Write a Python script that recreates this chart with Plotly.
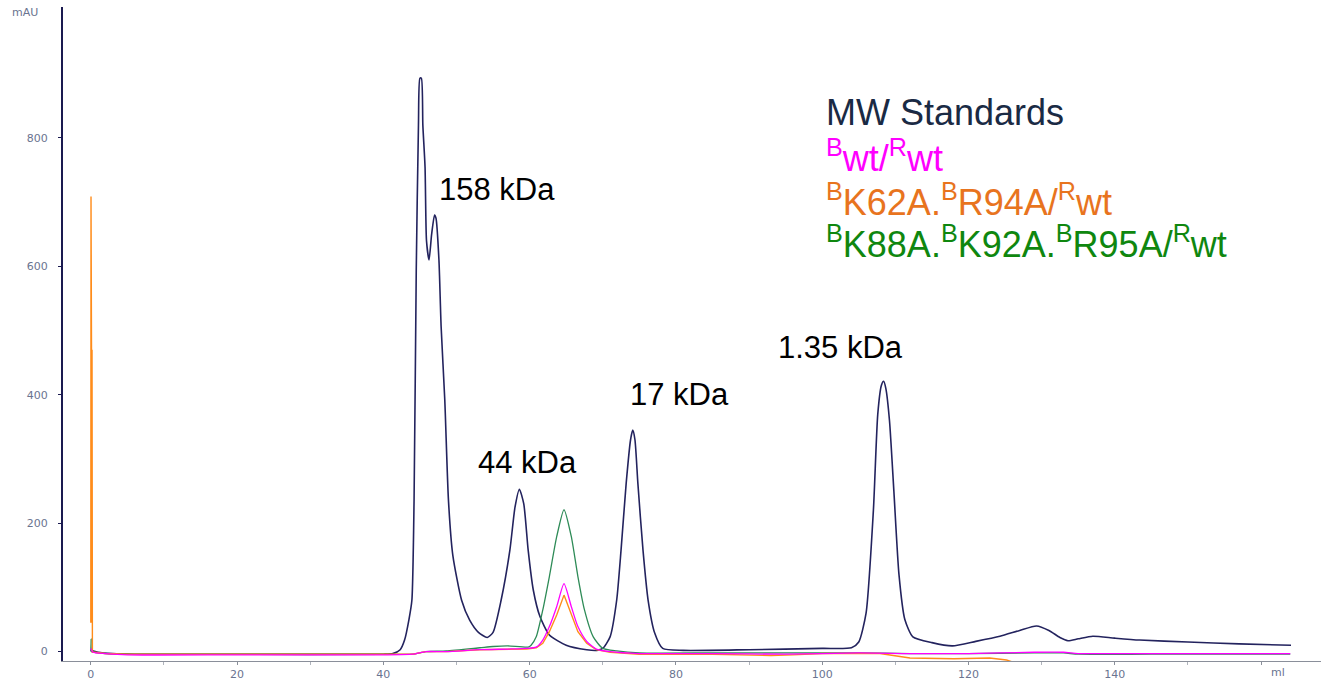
import plotly.graph_objects as go

# ---------------- data ----------------
# MW standards trace (ml, mAU)
mw_ml = [0, 1, 3, 6, 20, 40, 41.3, 42.3, 42.9, 43.5, 43.9, 44.2, 44.5, 44.8, 45.0, 45.2, 45.4,
         45.7, 45.9, 46.25, 46.6, 47.0, 47.2, 47.6, 47.9, 48.4, 48.9, 49.5, 50.7, 51.8, 53.0,
         54.2, 55.0, 56.1, 57.3, 58.0, 58.6, 59.2, 59.8, 60.5, 61.4, 62.7, 65.0, 67.8, 69.2,
         70.0, 71.0, 71.9, 72.5, 73.2, 73.8, 74.1, 74.4, 74.8, 75.5, 76.2, 77.1, 78.2, 81,
         90, 100, 104, 105, 106, 107, 107.6, 108.1, 108.4, 108.7, 109.2, 109.8, 110.5, 111.3,
         112.4, 115, 117.8, 121, 124.3, 127, 129.3, 131, 132.5, 133.6, 135, 137, 140, 143.4,
         150, 157, 164.1]
mw_mau = [2, -1, -3, -4, -4, -4, -3, 3, 18, 50, 80, 236, 595, 820, 893, 893, 820,
          755, 640, 610, 650, 680, 675, 610, 506, 392, 236, 150, 80, 49, 30,
          22, 30, 80, 158, 225, 253, 230, 158, 96, 55, 26, 10, 3, 2,
          5, 23, 80, 158, 262, 330, 345, 330, 262, 158, 80, 29, 5, 2,
          3, 5, 6, 15, 60, 220, 370, 415, 421, 410, 360, 250, 120, 50,
          23, 14, 9, 16, 24, 33, 40, 33, 22, 17, 20, 24, 21, 18,
          15, 12, 10]

# Bwt/Rwt trace
wt_ml = [0, 0.3, 2, 5, 20, 40, 44, 45.8, 48.6, 53.2, 57, 59.6, 60.9, 61.8, 62.7, 63.7, 64.7,
         65.7, 66.6, 67.8, 69.1, 71, 75, 85, 95, 105, 112, 120, 129, 133, 135, 145, 164]
wt_mau = [5, -1, -3, -5, -5, -5, -4, 0, 0, 3, 4, 5, 7, 18, 39, 70, 106,
          70, 39, 16, 4, 0, -3, -3, -4, -2, -3, -3, -1, -1, -3, -3, -3]

# BK62A.BR94A/Rwt trace
k62_ml = [0, 0.03, 0.06, 0.1, 0.14, 0.17, 0.22, 0.5, 2, 5, 20, 40, 44, 45.8, 48.6, 53.2, 57,
          59.6, 60.9, 61.8, 62.7, 63.7, 64.7, 65.7, 66.6, 67.8, 69.1, 71, 75, 85, 93, 96, 100,
          107.9, 110, 112, 118, 122.9, 125.2, 126.5, 127.4, 128]
k62_mau = [45, 709, 45, 470, 45, 470, -1, -1, -3, -4, -4, -4, -4, 0, 0, 3, 4,
           4, 6, 13, 31, 57, 88, 57, 31, 13, 3, -1, -4, -4, -6, -5, -3,
           -3, -7, -10, -11, -10, -13, -18, -23, -30]

# BK88A.BK92A.BR95A/Rwt trace
k88_ml = [0, 0.05, 0.1, 0.5, 2, 5, 20, 40, 44, 45.8, 48.6, 53.2, 55, 57, 59.8, 60.2, 60.9,
          61.8, 62.7, 63.7, 64.7, 65.7, 66.6, 67.5, 68.7, 70, 71.9, 75, 85, 95, 105, 112,
          120, 129, 133, 135, 145, 164]
k88_mau = [0, 20, 0, -1, -3, -4, -4, -4, -4, 0, 1, 6, 8, 9, 7, 10, 23,
           65, 117, 179, 221, 179, 117, 65, 23, 5, 1, -2, -2, -2, -2, -3,
           -3, -2, -2, -4, -4, -4]

# peak labels
peak_labels = ["158 kDa", "44 kDa", "17 kDa", "1.35 kDa"]
peak_x = [55.5, 59.7, 80.5, 102.5]
peak_y = [719, 295, 400, 474]

# legend-like text block
legend_texts = ["MW Standards",
                "<sup>B</sup>wt/<sup>R</sup>wt",
                "<sup>B</sup>K62A.<sup>B</sup>R94A/<sup>R</sup>wt",
                "<sup>B</sup>K88A.<sup>B</sup>K92A.<sup>B</sup>R95A/<sup>R</sup>wt"]
legend_y = [840, 772, 703, 638]

x_tick_vals = [0, 20, 40, 60, 80, 100, 120, 140, 160]
x_tick_text = ["0", "20", "40", "60", "80", "100", "120", "140", ""]
y_tick_vals = [0, 200, 400, 600, 800]

# ---------------- styles ----------------
NAVY = "#23235e"
MAGENTA = "#ff00ff"
ORANGE_LINE = "#ff8c1a"
GREEN_LINE = "#2e8b57"
TICK_COLOR = "#6a7490"
legend_colors = ["#1a2a44", "#ff00ff", "#e8741e", "#0f870f"]
legend_sizes = [36, 36, 36, 36]

fig = go.Figure()
fig.add_trace(go.Scatter(x=mw_ml, y=mw_mau, mode="lines",
                         line=dict(color=NAVY, width=1.6, shape="spline", smoothing=0.6),
                         name="MW Standards"))
fig.add_trace(go.Scatter(x=k88_ml, y=k88_mau, mode="lines",
                         line=dict(color=GREEN_LINE, width=1.3, shape="spline", smoothing=0.6),
                         name="K88A"))
fig.add_trace(go.Scatter(x=k62_ml, y=k62_mau, mode="lines",
                         line=dict(color=ORANGE_LINE, width=1.4), name="K62A"))
fig.add_trace(go.Scatter(x=wt_ml, y=wt_mau, mode="lines",
                         line=dict(color=MAGENTA, width=1.3, shape="spline", smoothing=0.6),
                         name="wt"))

for t, x, y in zip(peak_labels, peak_x, peak_y):
    fig.add_annotation(x=x, y=y, xref="x", yref="y", text=t, showarrow=False,
                       xanchor="center", yanchor="middle",
                       font=dict(family="Liberation Sans, Arial", size=31, color="#000000"))
for t, y, c, s in zip(legend_texts, legend_y, legend_colors, legend_sizes):
    fig.add_annotation(x=100.2, y=y, xref="x", yref="y", text=t, showarrow=False,
                       xanchor="left", yanchor="middle",
                       font=dict(family="Liberation Sans, Arial", size=s, color=c))
# axis unit labels
fig.add_annotation(x=-0.03, y=996, xref="paper", yref="y", text="mAU", showarrow=False,
                   xanchor="center", yanchor="middle",
                   font=dict(family="DejaVu Sans", size=11, color=TICK_COLOR))
fig.add_annotation(x=162.3, y=-14.6, xref="x", yref="y", text="ml", showarrow=False,
                   yanchor="top", yshift=-3,
                   font=dict(family="DejaVu Sans", size=11, color=TICK_COLOR))

fig.update_layout(
    width=1321, height=681,
    margin=dict(l=63, r=0, t=7, b=20, autoexpand=False),
    paper_bgcolor="white", plot_bgcolor="white",
    showlegend=False,
    xaxis=dict(range=[-3.8, 168.2], showgrid=False, zeroline=False, automargin=False,
               showline=True, linecolor="#8a8f9a", linewidth=1,
               tickmode="array", tickvals=x_tick_vals, ticktext=x_tick_text,
               ticks="outside", ticklen=3, tickcolor="#8a8f9a",
               minor=dict(dtick=10, tick0=0, ticks="outside", ticklen=3, tickcolor="#b0b4bc"),
               tickfont=dict(family="DejaVu Sans", size=11, color=TICK_COLOR)),
    yaxis=dict(range=[-14.6, 1004], showgrid=False, zeroline=False, automargin=False,
               showline=True, linecolor="#1a1a50", linewidth=2,
               tickmode="array", tickvals=y_tick_vals,
               ticks="outside", ticklen=3, tickcolor="#1a1a50",
               ticklabelstandoff=8,
               tickfont=dict(family="DejaVu Sans", size=11, color=TICK_COLOR)),
)

fig.write_html("out.html", config={"displayModeBar": False},
               post_script="document.body.style.margin='0';document.body.style.overflow='hidden';")
